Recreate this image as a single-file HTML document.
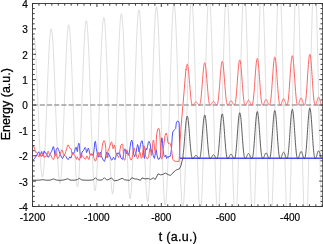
<!DOCTYPE html>
<html><head><meta charset="utf-8"><style>
html,body{margin:0;padding:0;background:#fff;width:323px;height:244px;overflow:hidden}
svg{display:block;font-family:"Liberation Sans",sans-serif;will-change:transform}
</style></head><body>
<svg width="323" height="244" viewBox="0 0 323 244">
<defs><clipPath id="c"><rect x="32.50" y="3.50" width="290.20" height="203.00"/></clipPath></defs>
<path d="M32.50 41.97L32.60 41.04L32.70 40.18L32.80 39.41L32.90 38.72L33.00 38.12L33.10 37.60L33.20 37.17L33.30 36.82L33.40 36.56L33.50 36.39L33.60 36.30L33.70 36.30L33.80 36.39L33.90 36.57L34.00 36.84L34.10 37.19L34.20 37.63L34.30 38.16L34.40 38.77L34.50 39.47L34.60 40.26L34.70 41.13L34.80 42.08L34.90 43.11L35.00 44.23L35.10 45.42L35.20 46.69L35.30 48.03L35.40 49.46L35.50 50.95L35.60 52.51L35.70 54.15L35.80 55.85L35.90 57.61L36.00 59.44L36.10 61.33L36.20 63.28L36.30 65.28L36.40 67.33L36.50 69.44L36.60 71.59L36.70 73.79L36.80 76.04L36.90 78.32L37.00 80.63L37.10 82.99L37.20 85.37L37.30 87.78L37.40 90.21L37.50 92.67L37.60 95.15L37.70 97.64L37.80 100.14L37.90 102.65L38.00 105.17L38.10 107.69L38.20 110.21L38.30 112.72L38.40 115.23L38.50 117.73L38.60 120.21L38.70 122.68L38.80 125.13L38.90 127.55L39.00 129.95L39.10 132.32L39.20 134.65L39.30 136.96L39.40 139.22L39.50 141.44L39.60 143.61L39.70 145.74L39.80 147.82L39.90 149.85L40.00 151.82L40.10 153.73L40.20 155.58L40.30 157.37L40.40 159.10L40.50 160.75L40.60 162.34L40.70 163.85L40.80 165.29L40.90 166.66L41.00 167.94L41.10 169.15L41.20 170.28L41.30 171.32L41.40 172.28L41.50 173.16L41.60 173.94L41.70 174.64L41.80 175.25L41.90 175.78L42.00 176.21L42.10 176.55L42.20 176.80L42.30 176.96L42.40 177.02L42.50 177.00L42.60 176.88L42.70 176.67L42.80 176.37L42.90 175.98L43.00 175.49L43.10 174.92L43.20 174.25L43.30 173.49L43.40 172.64L43.50 171.71L43.60 170.69L43.70 169.58L43.80 168.39L43.90 167.12L44.00 165.76L44.10 164.32L44.20 162.81L44.30 161.22L44.40 159.56L44.50 157.82L44.60 156.01L44.70 154.14L44.80 152.20L44.90 150.20L45.00 148.13L45.10 146.01L45.20 143.83L45.30 141.60L45.40 139.33L45.50 137.00L45.60 134.63L45.70 132.22L45.80 129.77L45.90 127.28L46.00 124.77L46.10 122.22L46.20 119.65L46.30 117.06L46.40 114.45L46.50 111.82L46.60 109.18L46.70 106.54L46.80 103.88L46.90 101.23L47.00 98.58L47.10 95.93L47.20 93.29L47.30 90.66L47.40 88.05L47.50 85.45L47.60 82.88L47.70 80.33L47.80 77.81L47.90 75.33L48.00 72.87L48.10 70.46L48.20 68.09L48.30 65.76L48.40 63.48L48.50 61.25L48.60 59.07L48.70 56.95L48.80 54.88L48.90 52.88L49.00 50.95L49.10 49.08L49.20 47.28L49.30 45.55L49.40 43.89L49.50 42.32L49.60 40.82L49.70 39.40L49.80 38.06L49.90 36.81L50.00 35.64L50.10 34.56L50.20 33.57L50.30 32.67L50.40 31.86L50.50 31.15L50.60 30.53L50.70 30.00L50.80 29.57L50.90 29.23L51.00 28.99L51.10 28.85L51.20 28.80L51.30 28.86L51.40 29.03L51.50 29.29L51.60 29.66L51.70 30.12L51.80 30.67L51.90 31.32L52.00 32.07L52.10 32.91L52.20 33.84L52.30 34.87L52.40 35.98L52.50 37.19L52.60 38.48L52.70 39.86L52.80 41.32L52.90 42.86L53.00 44.49L53.10 46.19L53.20 47.97L53.30 49.83L53.40 51.76L53.50 53.75L53.60 55.81L53.70 57.94L53.80 60.13L53.90 62.38L54.00 64.68L54.10 67.04L54.20 69.45L54.30 71.90L54.40 74.40L54.50 76.94L54.60 79.52L54.70 82.13L54.80 84.77L54.90 87.44L55.00 90.13L55.10 92.85L55.20 95.58L55.30 98.32L55.40 101.08L55.50 103.84L55.60 106.61L55.70 109.37L55.80 112.14L55.90 114.89L56.00 117.63L56.10 120.36L56.20 123.07L56.30 125.76L56.40 128.43L56.50 131.06L56.60 133.67L56.70 136.24L56.80 138.77L56.90 141.26L57.00 143.70L57.10 146.10L57.20 148.44L57.30 150.73L57.40 152.96L57.50 155.14L57.60 157.25L57.70 159.29L57.80 161.27L57.90 163.17L58.00 165.00L58.10 166.76L58.20 168.44L58.30 170.03L58.40 171.55L58.50 172.98L58.60 174.32L58.70 175.58L58.80 176.74L58.90 177.82L59.00 178.80L59.10 179.69L59.20 180.48L59.30 181.17L59.40 181.77L59.50 182.27L59.60 182.67L59.70 182.98L59.80 183.18L59.90 183.28L60.00 183.27L60.10 183.16L60.20 182.95L60.30 182.64L60.40 182.23L60.50 181.73L60.60 181.12L60.70 180.41L60.80 179.61L60.90 178.71L61.00 177.72L61.10 176.63L61.20 175.45L61.30 174.18L61.40 172.82L61.50 171.37L61.60 169.84L61.70 168.22L61.80 166.52L61.90 164.74L62.00 162.88L62.10 160.95L62.20 158.94L62.30 156.87L62.40 154.73L62.50 152.52L62.60 150.25L62.70 147.92L62.80 145.53L62.90 143.09L63.00 140.60L63.10 138.07L63.20 135.49L63.30 132.87L63.40 130.21L63.50 127.52L63.60 124.80L63.70 122.05L63.80 119.28L63.90 116.49L64.00 113.69L64.10 110.87L64.20 108.04L64.30 105.21L64.40 102.37L64.50 99.54L64.60 96.71L64.70 93.89L64.80 91.09L64.90 88.30L65.00 85.53L65.10 82.78L65.20 80.07L65.30 77.38L65.40 74.72L65.50 72.11L65.60 69.53L65.70 67.00L65.80 64.52L65.90 62.08L66.00 59.71L66.10 57.38L66.20 55.12L66.30 52.92L66.40 50.79L66.50 48.72L66.60 46.73L66.70 44.81L66.80 42.96L66.90 41.20L67.00 39.51L67.10 37.91L67.20 36.39L67.30 34.96L67.40 33.62L67.50 32.37L67.60 31.21L67.70 30.15L67.80 29.18L67.90 28.31L68.00 27.53L68.10 26.86L68.20 26.28L68.30 25.81L68.40 25.43L68.50 25.16L68.60 24.99L68.70 24.92L68.80 24.95L68.90 25.09L69.00 25.32L69.10 25.66L69.20 26.10L69.30 26.65L69.40 27.29L69.50 28.03L69.60 28.87L69.70 29.81L69.80 30.85L69.90 31.98L70.00 33.20L70.10 34.52L70.20 35.93L70.30 37.43L70.40 39.01L70.50 40.68L70.60 42.43L70.70 44.27L70.80 46.18L70.90 48.17L71.00 50.23L71.10 52.37L71.20 54.57L71.30 56.84L71.40 59.17L71.50 61.56L71.60 64.01L71.70 66.51L71.80 69.06L71.90 71.66L72.00 74.30L72.10 76.98L72.20 79.70L72.30 82.46L72.40 85.24L72.50 88.05L72.60 90.89L72.70 93.74L72.80 96.61L72.90 99.49L73.00 102.38L73.10 105.27L73.20 108.17L73.30 111.06L73.40 113.94L73.50 116.82L73.60 119.68L73.70 122.52L73.80 125.35L73.90 128.14L74.00 130.91L74.10 133.65L74.20 136.35L74.30 139.02L74.40 141.64L74.50 144.21L74.60 146.74L74.70 149.21L74.80 151.63L74.90 153.99L75.00 156.28L75.10 158.51L75.20 160.68L75.30 162.77L75.40 164.79L75.50 166.74L75.60 168.61L75.70 170.39L75.80 172.09L75.90 173.71L76.00 175.24L76.10 176.68L76.20 178.03L76.30 179.29L76.40 180.45L76.50 181.51L76.60 182.48L76.70 183.35L76.80 184.12L76.90 184.78L77.00 185.35L77.10 185.81L77.20 186.17L77.30 186.42L77.40 186.58L77.50 186.63L77.60 186.58L77.70 186.42L77.80 186.15L77.90 185.79L78.00 185.31L78.10 184.74L78.20 184.06L78.30 183.28L78.40 182.40L78.50 181.42L78.60 180.34L78.70 179.16L78.80 177.89L78.90 176.52L79.00 175.06L79.10 173.51L79.20 171.87L79.30 170.14L79.40 168.33L79.50 166.43L79.60 164.46L79.70 162.41L79.80 160.28L79.90 158.08L80.00 155.81L80.10 153.47L80.20 151.07L80.30 148.61L80.40 146.09L80.50 143.52L80.60 140.89L80.70 138.22L80.80 135.50L80.90 132.75L81.00 129.95L81.10 127.12L81.20 124.26L81.30 121.38L81.40 118.47L81.50 115.54L81.60 112.60L81.70 109.64L81.80 106.68L81.90 103.71L82.00 100.74L82.10 97.77L82.20 94.82L82.30 91.87L82.40 88.94L82.50 86.03L82.60 83.13L82.70 80.27L82.80 77.43L82.90 74.63L83.00 71.87L83.10 69.14L83.20 66.46L83.30 63.83L83.40 61.25L83.50 58.72L83.60 56.25L83.70 53.84L83.80 51.50L83.90 49.22L84.00 47.01L84.10 44.88L84.20 42.82L84.30 40.84L84.40 38.94L84.50 37.12L84.60 35.39L84.70 33.75L84.80 32.19L84.90 30.73L85.00 29.36L85.10 28.09L85.20 26.92L85.30 25.85L85.40 24.87L85.50 24.00L85.60 23.23L85.70 22.57L85.80 22.01L85.90 21.56L86.00 21.21L86.10 20.98L86.20 20.86L86.30 20.84L86.40 20.93L86.50 21.13L86.60 21.43L86.70 21.85L86.80 22.37L86.90 22.99L87.00 23.72L87.10 24.56L87.20 25.50L87.30 26.54L87.40 27.68L87.50 28.92L87.60 30.26L87.70 31.69L87.80 33.22L87.90 34.85L88.00 36.56L88.10 38.36L88.20 40.25L88.30 42.22L88.40 44.27L88.50 46.40L88.60 48.61L88.70 50.89L88.80 53.24L88.90 55.66L89.00 58.14L89.10 60.68L89.20 63.28L89.30 65.94L89.40 68.64L89.50 71.40L89.60 74.20L89.70 77.04L89.80 79.91L89.90 82.82L90.00 85.76L90.10 88.72L90.20 91.71L90.30 94.72L90.40 97.74L90.50 100.77L90.60 103.80L90.70 106.84L90.80 109.88L90.90 112.91L91.00 115.94L91.10 118.95L91.20 121.94L91.30 124.92L91.40 127.87L91.50 130.79L91.60 133.68L91.70 136.53L91.80 139.35L91.90 142.12L92.00 144.84L92.10 147.52L92.20 150.14L92.30 152.71L92.40 155.21L92.50 157.65L92.60 160.03L92.70 162.33L92.80 164.57L92.90 166.72L93.00 168.80L93.10 170.80L93.20 172.71L93.30 174.54L93.40 176.28L93.50 177.93L93.60 179.49L93.70 180.95L93.80 182.31L93.90 183.58L94.00 184.74L94.10 185.80L94.20 186.76L94.30 187.62L94.40 188.37L94.50 189.01L94.60 189.55L94.70 189.97L94.80 190.29L94.90 190.50L95.00 190.60L95.10 190.59L95.20 190.47L95.30 190.24L95.40 189.89L95.50 189.44L95.60 188.88L95.70 188.22L95.80 187.44L95.90 186.56L96.00 185.57L96.10 184.48L96.20 183.29L96.30 182.00L96.40 180.61L96.50 179.12L96.60 177.53L96.70 175.85L96.80 174.08L96.90 172.22L97.00 170.27L97.10 168.24L97.20 166.12L97.30 163.93L97.40 161.66L97.50 159.31L97.60 156.90L97.70 154.41L97.80 151.86L97.90 149.26L98.00 146.59L98.10 143.87L98.20 141.09L98.30 138.27L98.40 135.41L98.50 132.51L98.60 129.56L98.70 126.59L98.80 123.59L98.90 120.56L99.00 117.51L99.10 114.44L99.20 111.36L99.30 108.27L99.40 105.18L99.50 102.08L99.60 98.98L99.70 95.89L99.80 92.81L99.90 89.75L100.00 86.70L100.10 83.68L100.20 80.68L100.30 77.71L100.40 74.78L100.50 71.88L100.60 69.02L100.70 66.21L100.80 63.45L100.90 60.74L101.00 58.08L101.10 55.49L101.20 52.95L101.30 50.48L101.40 48.08L101.50 45.75L101.60 43.50L101.70 41.32L101.80 39.23L101.90 37.22L102.00 35.29L102.10 33.45L102.20 31.71L102.30 30.05L102.40 28.49L102.50 27.03L102.60 25.67L102.70 24.41L102.80 23.25L102.90 22.20L103.00 21.25L103.10 20.41L103.20 19.67L103.30 19.05L103.40 18.53L103.50 18.13L103.60 17.84L103.70 17.65L103.80 17.58L103.90 17.62L104.00 17.78L104.10 18.04L104.20 18.42L104.30 18.91L104.40 19.50L104.50 20.21L104.60 21.03L104.70 21.95L104.80 22.98L104.90 24.12L105.00 25.36L105.10 26.70L105.20 28.15L105.30 29.69L105.40 31.33L105.50 33.06L105.60 34.89L105.70 36.81L105.80 38.81L105.90 40.91L106.00 43.08L106.10 45.33L106.20 47.67L106.30 50.07L106.40 52.55L106.50 55.09L106.60 57.70L106.70 60.38L106.80 63.11L106.90 65.89L107.00 68.72L107.10 71.61L107.20 74.53L107.30 77.50L107.40 80.51L107.50 83.54L107.60 86.61L107.70 89.69L107.80 92.80L107.90 95.93L108.00 99.07L108.10 102.22L108.20 105.37L108.30 108.52L108.40 111.67L108.50 114.82L108.60 117.95L108.70 121.06L108.80 124.16L108.90 127.23L109.00 130.28L109.10 133.29L109.20 136.27L109.30 139.21L109.40 142.10L109.50 144.95L109.60 147.75L109.70 150.50L109.80 153.19L109.90 155.82L110.00 158.38L110.10 160.88L110.20 163.30L110.30 165.65L110.40 167.93L110.50 170.12L110.60 172.23L110.70 174.26L110.80 176.20L110.90 178.04L111.00 179.80L111.10 181.46L111.20 183.02L111.30 184.48L111.40 185.84L111.50 187.10L111.60 188.25L111.70 189.29L111.80 190.23L111.90 191.06L112.00 191.78L112.10 192.39L112.20 192.88L112.30 193.27L112.40 193.54L112.50 193.71L112.60 193.75L112.70 193.69L112.80 193.51L112.90 193.22L113.00 192.81L113.10 192.29L113.20 191.66L113.30 190.92L113.40 190.06L113.50 189.10L113.60 188.03L113.70 186.85L113.80 185.56L113.90 184.17L114.00 182.68L114.10 181.09L114.20 179.40L114.30 177.61L114.40 175.73L114.50 173.75L114.60 171.69L114.70 169.54L114.80 167.31L114.90 164.99L115.00 162.60L115.10 160.13L115.20 157.59L115.30 154.98L115.40 152.30L115.50 149.57L115.60 146.77L115.70 143.92L115.80 141.01L115.90 138.06L116.00 135.07L116.10 132.03L116.20 128.96L116.30 125.85L116.40 122.72L116.50 119.56L116.60 116.38L116.70 113.19L116.80 109.98L116.90 106.76L117.00 103.54L117.10 100.32L117.20 97.11L117.30 93.90L117.40 90.71L117.50 87.53L117.60 84.37L117.70 81.23L117.80 78.13L117.90 75.06L118.00 72.02L118.10 69.03L118.20 66.07L118.30 63.17L118.40 60.32L118.50 57.52L118.60 54.79L118.70 52.11L118.80 49.51L118.90 46.97L119.00 44.50L119.10 42.12L119.20 39.81L119.30 37.58L119.40 35.44L119.50 33.38L119.60 31.42L119.70 29.55L119.80 27.77L119.90 26.10L120.00 24.52L120.10 23.04L120.20 21.67L120.30 20.41L120.40 19.25L120.50 18.20L120.60 17.26L120.70 16.44L120.80 15.73L120.90 15.13L121.00 14.64L121.10 14.28L121.20 14.02L121.30 13.89L121.40 13.87L121.50 13.96L121.60 14.18L121.70 14.51L121.80 14.95L121.90 15.50L122.00 16.17L122.10 16.96L122.20 17.86L122.30 18.87L122.40 19.99L122.50 21.22L122.60 22.56L122.70 24.00L122.80 25.55L122.90 27.21L123.00 28.96L123.10 30.81L123.20 32.76L123.30 34.80L123.40 36.93L123.50 39.16L123.60 41.46L123.70 43.85L123.80 46.32L123.90 48.87L124.00 51.49L124.10 54.18L124.20 56.94L124.30 59.76L124.40 62.64L124.50 65.58L124.60 68.57L124.70 71.60L124.80 74.69L124.90 77.81L125.00 80.97L125.10 84.16L125.20 87.38L125.30 90.63L125.40 93.90L125.50 97.18L125.60 100.47L125.70 103.77L125.80 107.08L125.90 110.39L126.00 113.69L126.10 116.98L126.20 120.25L126.30 123.51L126.40 126.75L126.50 129.97L126.60 133.15L126.70 136.30L126.80 139.41L126.90 142.48L127.00 145.50L127.10 148.47L127.20 151.39L127.30 154.25L127.40 157.05L127.50 159.78L127.60 162.44L127.70 165.04L127.80 167.55L127.90 169.99L128.00 172.35L128.10 174.62L128.20 176.80L128.30 178.90L128.40 180.90L128.50 182.80L128.60 184.61L128.70 186.31L128.80 187.91L128.90 189.40L129.00 190.79L129.10 192.07L129.20 193.24L129.30 194.29L129.40 195.23L129.50 196.06L129.60 196.77L129.70 197.36L129.80 197.83L129.90 198.18L130.00 198.42L130.10 198.52L130.20 198.50L130.30 198.36L130.40 198.10L130.50 197.72L130.60 197.22L130.70 196.60L130.80 195.86L130.90 195.01L131.00 194.04L131.10 192.96L131.20 191.76L131.30 190.46L131.40 189.04L131.50 187.51L131.60 185.88L131.70 184.14L131.80 182.30L131.90 180.36L132.00 178.33L132.10 176.19L132.20 173.97L132.30 171.66L132.40 169.26L132.50 166.78L132.60 164.21L132.70 161.57L132.80 158.86L132.90 156.08L133.00 153.23L133.10 150.31L133.20 147.34L133.30 144.32L133.40 141.24L133.50 138.11L133.60 134.94L133.70 131.73L133.80 128.49L133.90 125.21L134.00 121.91L134.10 118.58L134.20 115.24L134.30 111.88L134.40 108.51L134.50 105.13L134.60 101.76L134.70 98.39L134.80 95.02L134.90 91.67L135.00 88.33L135.10 85.01L135.20 81.71L135.30 78.45L135.40 75.22L135.50 72.02L135.60 68.87L135.70 65.76L135.80 62.70L135.90 59.69L136.00 56.74L136.10 53.85L136.20 51.03L136.30 48.27L136.40 45.59L136.50 42.98L136.60 40.45L136.70 38.00L136.80 35.63L136.90 33.36L137.00 31.17L137.10 29.08L137.20 27.09L137.30 25.19L137.40 23.40L137.50 21.71L137.60 20.12L137.70 18.65L137.80 17.28L137.90 16.03L138.00 14.89L138.10 13.86L138.20 12.95L138.30 12.16L138.40 11.49L138.50 10.93L138.60 10.50L138.70 10.18L138.80 9.98L138.90 9.90L139.00 9.95L139.10 10.11L139.20 10.40L139.30 10.81L139.40 11.34L139.50 11.99L139.60 12.76L139.70 13.65L139.80 14.65L139.90 15.77L140.00 17.01L140.10 18.36L140.20 19.82L140.30 21.39L140.40 23.07L140.50 24.85L140.60 26.74L140.70 28.73L140.80 30.82L140.90 33.00L141.00 35.28L141.10 37.64L141.20 40.10L141.30 42.64L141.40 45.26L141.50 47.95L141.60 50.72L141.70 53.57L141.80 56.47L141.90 59.45L142.00 62.48L142.10 65.57L142.20 68.71L142.30 71.89L142.40 75.13L142.50 78.40L142.60 81.70L142.70 85.04L142.80 88.41L142.90 91.79L143.00 95.20L143.10 98.62L143.20 102.05L143.30 105.48L143.40 108.92L143.50 112.35L143.60 115.77L143.70 119.19L143.80 122.58L143.90 125.95L144.00 129.30L144.10 132.62L144.20 135.91L144.30 139.15L144.40 142.36L144.50 145.51L144.60 148.62L144.70 151.67L144.80 154.67L144.90 157.60L145.00 160.46L145.10 163.26L145.20 165.98L145.30 168.62L145.40 171.19L145.50 173.67L145.60 176.06L145.70 178.36L145.80 180.57L145.90 182.69L146.00 184.70L146.10 186.61L146.20 188.42L146.30 190.13L146.40 191.72L146.50 193.20L146.60 194.58L146.70 195.83L146.80 196.97L146.90 198.00L147.00 198.90L147.10 199.69L147.20 200.35L147.30 200.89L147.40 201.31L147.50 201.60L147.60 201.78L147.70 201.81L147.80 201.72L147.90 201.51L148.00 201.17L148.10 200.71L148.20 200.13L148.30 199.43L148.40 198.60L148.50 197.65L148.60 196.59L148.70 195.40L148.80 194.10L148.90 192.69L149.00 191.16L149.10 189.52L149.20 187.77L149.30 185.92L149.40 183.96L149.50 181.90L149.60 179.74L149.70 177.48L149.80 175.13L149.90 172.69L150.00 170.16L150.10 167.55L150.20 164.86L150.30 162.09L150.40 159.24L150.50 156.33L150.60 153.34L150.70 150.30L150.80 147.19L150.90 144.04L151.00 140.83L151.10 137.57L151.20 134.27L151.30 130.93L151.40 127.56L151.50 124.16L151.60 120.73L151.70 117.28L151.80 113.82L151.90 110.34L152.00 106.85L152.10 103.36L152.20 99.88L152.30 96.39L152.40 92.92L152.50 89.46L152.60 86.03L152.70 82.61L152.80 79.22L152.90 75.87L153.00 72.55L153.10 69.27L153.20 66.03L153.30 62.85L153.40 59.72L153.50 56.64L153.60 53.63L153.70 50.68L153.80 47.80L153.90 45.00L154.00 42.26L154.10 39.61L154.20 37.04L154.30 34.56L154.40 32.17L154.50 29.87L154.60 27.67L154.70 25.56L154.80 23.55L154.90 21.65L155.00 19.86L155.10 18.17L155.20 16.60L155.30 15.13L155.40 13.79L155.50 12.56L155.60 11.44L155.70 10.45L155.80 9.57L155.90 8.82L156.00 8.20L156.10 7.69L156.20 7.31L156.30 7.06L156.40 6.91L156.50 6.89L156.60 7.00L156.70 7.23L156.80 7.59L156.90 8.07L157.00 8.68L157.10 9.41L157.20 10.26L157.30 11.24L157.40 12.34L157.50 13.55L157.60 14.88L157.70 16.33L157.80 17.90L157.90 19.57L158.00 21.36L158.10 23.25L158.20 25.25L158.30 27.35L158.40 29.56L158.50 31.86L158.60 34.25L158.70 36.74L158.80 39.32L158.90 41.98L159.00 44.72L159.10 47.55L159.20 50.44L159.30 53.41L159.40 56.45L159.50 59.55L159.60 62.71L159.70 65.93L159.80 69.19L159.90 72.51L160.00 75.87L160.10 79.26L160.20 82.69L160.30 86.16L160.40 89.64L160.50 93.15L160.60 96.68L160.70 100.22L160.80 103.76L160.90 107.31L161.00 110.86L161.10 114.40L161.20 117.94L161.30 121.45L161.40 124.95L161.50 128.43L161.60 131.87L161.70 135.28L161.80 138.66L161.90 141.99L162.00 145.28L162.10 148.52L162.20 151.70L162.30 154.83L162.40 157.89L162.50 160.89L162.60 163.82L162.70 166.67L162.80 169.44L162.90 172.14L163.00 174.75L163.10 177.27L163.20 179.69L163.30 182.03L163.40 184.27L163.50 186.40L163.60 188.43L163.70 190.36L163.80 192.18L163.90 193.88L164.00 195.48L164.10 196.96L164.20 198.32L164.30 199.56L164.40 200.68L164.50 201.68L164.60 202.55L164.70 203.30L164.80 203.93L164.90 204.43L165.00 204.80L165.10 205.03L165.20 205.12L165.30 205.10L165.40 204.94L165.50 204.65L165.60 204.24L165.70 203.70L165.80 203.03L165.90 202.23L166.00 201.31L166.10 200.27L166.20 199.11L166.30 197.82L166.40 196.41L166.50 194.89L166.60 193.25L166.70 191.50L166.80 189.63L166.90 187.66L167.00 185.58L167.10 183.39L167.20 181.11L167.30 178.73L167.40 176.25L167.50 173.68L167.60 171.02L167.70 168.27L167.80 165.44L167.90 162.54L168.00 159.56L168.10 156.51L168.20 153.39L168.30 150.21L168.40 146.97L168.50 143.68L168.60 140.33L168.70 136.94L168.80 133.51L168.90 130.04L169.00 126.54L169.10 123.01L169.20 119.45L169.30 115.88L169.40 112.29L169.50 108.69L169.60 105.08L169.70 101.47L169.80 97.87L169.90 94.27L170.00 90.69L170.10 87.13L170.20 83.58L170.30 80.07L170.40 76.58L170.50 73.13L170.60 69.72L170.70 66.36L170.80 63.04L170.90 59.77L171.00 56.57L171.10 53.42L171.20 50.34L171.30 47.33L171.40 44.39L171.50 41.53L171.60 38.75L171.70 36.05L171.80 33.44L171.90 30.92L172.00 28.50L172.10 26.17L172.20 23.95L172.30 21.82L172.40 19.80L172.50 17.90L172.60 16.10L172.70 14.41L172.80 12.85L172.90 11.40L173.00 10.06L173.10 8.85L173.20 7.77L173.30 6.80L173.40 5.97L173.50 5.26L173.60 4.67L173.70 4.22L173.80 3.89L173.90 3.69L174.00 3.63L174.10 3.68L174.20 3.86L174.30 4.18L174.40 4.62L174.50 5.19L174.60 5.89L174.70 6.72L174.80 7.67L174.90 8.75L175.00 9.95L175.10 11.27L175.20 12.71L175.30 14.28L175.40 15.96L175.50 17.75L175.60 19.66L175.70 21.67L175.80 23.80L175.90 26.02L176.00 28.36L176.10 30.78L176.20 33.31L176.30 35.93L176.40 38.64L176.50 41.43L176.60 44.31L176.70 47.26L176.80 50.29L176.90 53.39L177.00 56.56L177.10 59.79L177.20 63.08L177.30 66.43L177.40 69.83L177.50 73.27L177.60 76.75L177.70 80.28L177.80 83.83L177.90 87.41L178.00 91.02L178.10 94.65L178.20 98.29L178.30 101.94L178.40 105.60L178.50 109.25L178.60 112.90L178.70 116.55L178.80 120.18L178.90 123.79L179.00 127.38L179.10 130.94L179.20 134.47L179.30 137.96L179.40 141.41L179.50 144.82L179.60 148.18L179.70 151.48L179.80 154.72L179.90 157.91L180.00 161.02L180.10 164.06L180.20 167.03L180.30 169.92L180.40 172.73L180.50 175.45L180.60 178.09L180.70 180.63L180.80 183.07L180.90 185.42L181.00 187.66L181.10 189.80L181.20 191.83L181.30 193.74L181.40 195.55L181.50 197.24L181.60 198.81L181.70 200.26L181.80 201.59L181.90 202.80L182.00 203.88L182.10 204.84L182.20 205.67L182.30 206.37L182.40 206.93L182.50 207.37L182.60 207.68L182.70 207.86L182.80 207.90L182.90 207.81L183.00 207.59L183.10 207.24L183.20 206.75L183.30 206.14L183.40 205.39L183.50 204.52L183.60 203.52L183.70 202.39L183.80 201.13L183.90 199.76L184.00 198.26L184.10 196.64L184.20 194.90L184.30 193.04L184.40 191.07L184.50 188.99L184.60 186.80L184.70 184.51L184.80 182.11L184.90 179.61L185.00 177.02L185.10 174.33L185.20 171.55L185.30 168.69L185.40 165.74L185.50 162.71L185.60 159.61L185.70 156.44L185.80 153.20L185.90 149.89L186.00 146.53L186.10 143.11L186.20 139.64L186.30 136.13L186.40 132.57L186.50 128.98L186.60 125.36L186.70 121.70L186.80 118.03L186.90 114.33L187.00 110.63L187.10 106.91L187.20 103.19L187.30 99.47L187.40 95.76L187.50 92.05L187.60 88.36L187.70 84.69L187.80 81.05L187.90 77.43L188.00 73.85L188.10 70.31L188.20 66.81L188.30 63.35L188.40 59.95L188.50 56.61L188.60 53.32L188.70 50.10L188.80 46.95L188.90 43.88L189.00 40.88L189.10 37.96L189.20 35.12L189.30 32.37L189.40 29.72L189.50 27.16L189.60 24.70L189.70 22.34L189.80 20.09L189.90 17.94L190.00 15.90L190.10 13.98L190.20 12.17L190.30 10.49L190.40 8.92L190.50 7.47L190.60 6.15L190.70 4.96L190.80 3.89L190.90 2.95L191.00 2.14L191.10 1.46L191.20 0.92L191.30 0.51L191.40 0.23L191.50 0.09L191.60 0.08L191.70 0.20L191.80 0.46L191.90 0.85L192.00 1.38L192.10 2.04L192.20 2.83L192.30 3.75L192.40 4.81L192.50 5.99L192.60 7.30L192.70 8.73L192.80 10.29L192.90 11.97L193.00 13.77L193.10 15.69L193.20 17.72L193.30 19.86L193.40 22.12L193.50 24.48L193.60 26.94L193.70 29.51L193.80 32.17L193.90 34.93L194.00 37.78L194.10 40.72L194.20 43.74L194.30 46.84L194.40 50.01L194.50 53.26L194.60 56.57L194.70 59.95L194.80 63.38L194.90 66.87L195.00 70.41L195.10 74.00L195.20 77.63L195.30 81.29L195.40 84.98L195.50 88.71L195.60 92.45L195.70 96.21L195.80 99.98L195.90 103.77L196.00 107.55L196.10 111.33L196.20 115.11L196.30 118.87L196.40 122.62L196.50 126.35L196.60 130.05L196.70 133.72L196.80 137.35L196.90 140.94L197.00 144.49L197.10 147.99L197.20 151.43L197.30 154.82L197.40 158.14L197.50 161.40L197.60 164.59L197.70 167.70L197.80 170.73L197.90 173.68L198.00 176.54L198.10 179.31L198.20 181.98L198.30 184.56L198.40 187.04L198.50 189.41L198.60 191.67L198.70 193.83L198.80 195.87L198.90 197.79L199.00 199.60L199.10 201.29L199.20 202.85L199.30 204.29L199.40 205.60L199.50 206.78L199.60 207.83L199.70 208.75L199.80 209.54L199.90 210.20L200.00 210.71L200.10 211.10L200.20 211.35L200.30 211.46L200.40 211.43L200.50 211.27L200.60 210.97L200.70 210.54L200.80 209.97L200.90 209.26L201.00 208.42L201.10 207.45L201.20 206.34L201.30 205.11L201.40 203.74L201.50 202.25L201.60 200.64L201.70 198.90L201.80 197.04L201.90 195.06L202.00 192.96L202.10 190.75L202.20 188.43L202.30 186.00L202.40 183.47L202.50 180.83L202.60 178.10L202.70 175.27L202.80 172.35L202.90 169.34L203.00 166.25L203.10 163.08L203.20 159.83L203.30 156.51L203.40 153.12L203.50 149.67L203.60 146.16L203.70 142.60L203.80 138.99L203.90 135.33L204.00 131.63L204.10 127.90L204.20 124.13L204.30 120.34L204.40 116.53L204.50 112.70L204.60 108.86L204.70 105.02L204.80 101.17L204.90 97.32L205.00 93.49L205.10 89.66L205.20 85.86L205.30 82.08L205.40 78.32L205.50 74.60L205.60 70.92L205.70 67.27L205.80 63.68L205.90 60.13L206.00 56.65L206.10 53.22L206.20 49.85L206.30 46.56L206.40 43.34L206.50 40.20L206.60 37.14L206.70 34.16L206.80 31.28L206.90 28.49L207.00 25.79L207.10 23.20L207.20 20.71L207.30 18.32L207.40 16.05L207.50 13.89L207.60 11.84L207.70 9.92L207.80 8.11L207.90 6.43L208.00 4.87L208.10 3.44L208.20 2.14L208.30 0.97L208.40 -0.06L208.50 -0.96L208.60 -1.73L208.70 -2.36L208.80 -2.85L208.90 -3.20L209.00 -3.42L209.10 -3.50L209.20 -3.44L209.30 -3.24L209.40 -2.90L209.50 -2.42L209.60 -1.80L209.70 -1.05L209.80 -0.16L209.90 0.86L210.00 2.02L210.10 3.31L210.20 4.73L210.30 6.28L210.40 7.95L210.50 9.75L210.60 11.68L210.70 13.72L210.80 15.88L210.90 18.16L211.00 20.55L211.10 23.04L211.20 25.65L211.30 28.35L211.40 31.16L211.50 34.06L211.60 37.05L211.70 40.13L211.80 43.29L211.90 46.54L212.00 49.86L212.10 53.25L212.20 56.71L212.30 60.23L212.40 63.82L212.50 67.45L212.60 71.14L212.70 74.86L212.80 78.63L212.90 82.44L213.00 86.27L213.10 90.13L213.20 94.01L213.30 97.91L213.40 101.81L213.50 105.72L213.60 109.64L213.70 113.54L213.80 117.44L213.90 121.32L214.00 125.18L214.10 129.02L214.20 132.83L214.30 136.61L214.40 140.34L214.50 144.03L214.60 147.67L214.70 151.26L214.80 154.79L214.90 158.26L215.00 161.66L215.10 164.99L215.20 168.24L215.30 171.42L215.40 174.51L215.50 177.51L215.60 180.41L215.70 183.23L215.80 185.94L215.90 188.55L216.00 191.06L216.10 193.45L216.20 195.73L216.30 197.90L216.40 199.95L216.50 201.88L216.60 203.68L216.70 205.36L216.80 206.90L216.90 208.32L217.00 209.61L217.10 210.76L217.20 211.78L217.30 212.66L217.40 213.40L217.50 214.01L217.60 214.47L217.70 214.80L217.80 214.98L217.90 215.02L218.00 214.92L218.10 214.68L218.20 214.30L218.30 213.78L218.40 213.12L218.50 212.32L218.60 211.38L218.70 210.31L218.80 209.10L218.90 207.75L219.00 206.27L219.10 204.67L219.20 202.93L219.30 201.07L219.40 199.08L219.50 196.97L219.60 194.74L219.70 192.40L219.80 189.94L219.90 187.38L220.00 184.71L220.10 181.93L220.20 179.05L220.30 176.08L220.40 173.02L220.50 169.86L220.60 166.63L220.70 163.31L220.80 159.91L220.90 156.45L221.00 152.92L221.10 149.32L221.20 145.66L221.30 141.96L221.40 138.20L221.50 134.40L221.60 130.56L221.70 126.68L221.80 122.78L221.90 118.85L222.00 114.90L222.10 110.94L222.20 106.97L222.30 102.99L222.40 99.02L222.50 95.05L222.60 91.09L222.70 87.15L222.80 83.23L222.90 79.34L223.00 75.48L223.10 71.65L223.20 67.87L223.30 64.13L223.40 60.44L223.50 56.81L223.60 53.24L223.70 49.73L223.80 46.29L223.90 42.93L224.00 39.64L224.10 36.44L224.20 33.32L224.30 30.30L224.40 27.37L224.50 24.53L224.60 21.80L224.70 19.18L224.80 16.66L224.90 14.26L225.00 11.97L225.10 9.80L225.20 7.75L225.30 5.82L225.40 4.02L225.50 2.35L225.60 0.81L225.70 -0.60L225.80 -1.87L225.90 -3.01L226.00 -4.01L226.10 -4.87L226.20 -5.58L226.30 -6.16L226.40 -6.60L226.50 -6.89L226.60 -7.04L226.70 -7.05L226.80 -6.91L226.90 -6.63L227.00 -6.20L227.10 -5.64L227.20 -4.93L227.30 -4.08L227.40 -3.09L227.50 -1.96L227.60 -0.70L227.70 0.71L227.80 2.24L227.90 3.91L228.00 5.71L228.10 7.63L228.20 9.68L228.30 11.86L228.40 14.15L228.50 16.56L228.60 19.09L228.70 21.72L228.80 24.46L228.90 27.31L229.00 30.26L229.10 33.30L229.20 36.44L229.30 39.67L229.40 42.98L229.50 46.37L229.60 49.84L229.70 53.38L229.80 56.98L229.90 60.65L230.00 64.38L230.10 68.16L230.20 71.99L230.30 75.86L230.40 79.78L230.50 83.72L230.60 87.69L230.70 91.69L230.80 95.71L230.90 99.74L231.00 103.77L231.10 107.81L231.20 111.85L231.30 115.88L231.40 119.90L231.50 123.89L231.60 127.87L231.70 131.82L231.80 135.73L231.90 139.61L232.00 143.44L232.10 147.23L232.20 150.96L232.30 154.64L232.40 158.25L232.50 161.80L232.60 165.27L232.70 168.67L232.80 171.98L232.90 175.22L233.00 178.36L233.10 181.41L233.20 184.36L233.30 187.21L233.40 189.96L233.50 192.60L233.60 195.13L233.70 197.54L233.80 199.84L233.90 202.01L234.00 204.06L234.10 205.99L234.20 207.78L234.30 209.44L234.40 210.97L234.50 212.37L234.60 213.63L234.70 214.75L234.80 215.72L234.90 216.56L235.00 217.25L235.10 217.80L235.20 218.21L235.30 218.47L235.40 218.58L235.50 218.55L235.60 218.37L235.70 218.05L235.80 217.58L235.90 216.97L236.00 216.21L236.10 215.31L236.20 214.27L236.30 213.09L236.40 211.77L236.50 210.31L236.60 208.72L236.70 206.99L236.80 205.13L236.90 203.14L237.00 201.02L237.10 198.78L237.20 196.42L237.30 193.94L237.40 191.35L237.50 188.64L237.60 185.83L237.70 182.91L237.80 179.89L237.90 176.77L238.00 173.56L238.10 170.26L238.20 166.88L238.30 163.41L238.40 159.87L238.50 156.26L238.60 152.57L238.70 148.83L238.80 145.03L238.90 141.18L239.00 137.27L239.10 133.33L239.20 129.35L239.30 125.33L239.40 121.29L239.50 117.22L239.60 113.14L239.70 109.05L239.80 104.94L239.90 100.84L240.00 96.74L240.10 92.65L240.20 88.58L240.30 84.52L240.40 80.49L240.50 76.48L240.60 72.52L240.70 68.59L240.80 64.71L240.90 60.88L241.00 57.10L241.10 53.38L241.20 49.73L241.30 46.15L241.40 42.64L241.50 39.21L241.60 35.86L241.70 32.60L241.80 29.43L241.90 26.36L242.00 23.39L242.10 20.52L242.20 17.75L242.30 15.10L242.40 12.56L242.50 10.14L242.60 7.84L242.70 5.67L242.80 3.62L242.90 1.70L243.00 -0.09L243.10 -1.75L243.20 -3.27L243.30 -4.65L243.40 -5.89L243.50 -6.99L243.60 -7.95L243.70 -8.76L243.80 -9.42L243.90 -9.95L244.00 -10.32L244.10 -10.54L244.20 -10.62L244.30 -10.55L244.40 -10.33L244.50 -9.97L244.60 -9.46L244.70 -8.80L244.80 -7.99L244.90 -7.04L245.00 -5.94L245.10 -4.71L245.20 -3.33L245.30 -1.81L245.40 -0.16L245.50 1.63L245.60 3.56L245.70 5.61L245.80 7.79L245.90 10.10L246.00 12.53L246.10 15.07L246.20 17.74L246.30 20.51L246.40 23.40L246.50 26.39L246.60 29.48L246.70 32.68L246.80 35.96L246.90 39.33L247.00 42.79L247.10 46.33L247.20 49.95L247.30 53.64L247.40 57.39L247.50 61.21L247.60 65.08L247.70 69.01L247.80 72.98L247.90 77.00L248.00 81.05L248.10 85.14L248.20 89.25L248.30 93.39L248.40 97.54L248.50 101.70L248.60 105.86L248.70 110.03L248.80 114.19L248.90 118.34L249.00 122.48L249.10 126.59L249.20 130.68L249.30 134.73L249.40 138.75L249.50 142.73L249.60 146.66L249.70 150.54L249.80 154.36L249.90 158.11L250.00 161.81L250.10 165.43L250.20 168.97L250.30 172.43L250.40 175.81L250.50 179.09L250.60 182.29L250.70 185.38L250.80 188.38L250.90 191.26L251.00 194.04L251.10 196.70L251.20 199.25L251.30 201.68L251.40 203.98L251.50 206.16L251.60 208.21L251.70 210.12L251.80 211.90L251.90 213.55L252.00 215.06L252.10 216.42L252.20 217.65L252.30 218.72L252.40 219.66L252.50 220.45L252.60 221.08L252.70 221.57L252.80 221.91L252.90 222.11L253.00 222.15L253.10 222.04L253.20 221.78L253.30 221.37L253.40 220.81L253.50 220.10L253.60 219.24L253.70 218.24L253.80 217.09L253.90 215.80L254.00 214.36L254.10 212.79L254.20 211.07L254.30 209.22L254.40 207.23L254.50 205.11L254.60 202.86L254.70 200.49L254.80 197.99L254.90 195.37L255.00 192.64L255.10 189.79L255.20 186.83L255.30 183.77L255.40 180.60L255.50 177.34L255.60 173.98L255.70 170.53L255.80 167.00L255.90 163.38L256.00 159.69L256.10 155.93L256.20 152.10L256.30 148.21L256.40 144.26L256.50 140.26L256.60 136.21L256.70 132.13L256.80 128.00L256.90 123.85L257.00 119.66L257.10 115.46L257.20 111.25L257.30 107.02L257.40 102.79L257.50 98.56L257.60 94.34L257.70 90.13L257.80 85.93L257.90 81.76L258.00 77.62L258.10 73.51L258.20 69.44L258.30 65.42L258.40 61.44L258.50 57.52L258.60 53.66L258.70 49.86L258.80 46.13L258.90 42.47L259.00 38.90L259.10 35.40L259.20 32.00L259.30 28.68L259.40 25.47L259.50 22.35L259.60 19.34L259.70 16.44L259.80 13.65L259.90 10.97L260.00 8.42L260.10 5.99L260.20 3.68L260.30 1.50L260.40 -0.54L260.50 -2.45L260.60 -4.23L260.70 -5.86L260.80 -7.35L260.90 -8.70L261.00 -9.91L261.10 -10.97L261.20 -11.87L261.30 -12.64L261.40 -13.25L261.50 -13.70L261.60 -14.01L261.70 -14.17L261.80 -14.17L261.90 -14.02L262.00 -13.71L262.10 -13.26L262.20 -12.65L262.30 -11.89L262.40 -10.99L262.50 -9.93L262.60 -8.73L262.70 -7.38L262.80 -5.88L262.90 -4.24L263.00 -2.47L263.10 -0.55L263.20 1.50L263.30 3.69L263.40 6.00L263.50 8.44L263.60 11.01L263.70 13.70L263.80 16.51L263.90 19.43L264.00 22.46L264.10 25.59L264.20 28.83L264.30 32.17L264.40 35.61L264.50 39.13L264.60 42.74L264.70 46.43L264.80 50.19L264.90 54.03L265.00 57.93L265.10 61.90L265.20 65.92L265.30 69.99L265.40 74.11L265.50 78.27L265.60 82.47L265.70 86.69L265.80 90.94L265.90 95.21L266.00 99.50L266.10 103.79L266.20 108.08L266.30 112.38L266.40 116.66L266.50 120.93L266.60 125.18L266.70 129.41L266.80 133.60L266.90 137.76L267.00 141.88L267.10 145.96L267.20 149.98L267.30 153.95L267.40 157.85L267.50 161.69L267.60 165.46L267.70 169.15L267.80 172.76L267.90 176.28L268.00 179.71L268.10 183.05L268.20 186.29L268.30 189.42L268.40 192.45L268.50 195.37L268.60 198.17L268.70 200.85L268.80 203.42L268.90 205.85L269.00 208.16L269.10 210.33L269.20 212.38L269.30 214.28L269.40 216.04L269.50 217.67L269.60 219.14L269.70 220.48L269.80 221.66L269.90 222.70L270.00 223.58L270.10 224.31L270.20 224.89L270.30 225.32L270.40 225.59L270.50 225.71L270.60 225.67L270.70 225.48L270.80 225.13L270.90 224.63L271.00 223.97L271.10 223.16L271.20 222.20L271.30 221.09L271.40 219.83L271.50 218.43L271.60 216.87L271.70 215.17L271.80 213.33L271.90 211.35L272.00 209.24L272.10 206.98L272.20 204.60L272.30 202.09L272.40 199.45L272.50 196.69L272.60 193.81L272.70 190.82L272.80 187.72L272.90 184.50L273.00 181.19L273.10 177.78L273.20 174.27L273.30 170.67L273.40 166.99L273.50 163.22L273.60 159.38L273.70 155.47L273.80 151.49L273.90 147.45L274.00 143.35L274.10 139.21L274.20 135.02L274.30 130.79L274.40 126.52L274.50 122.22L274.60 117.91L274.70 113.57L274.80 109.22L274.90 104.86L275.00 100.50L275.10 96.15L275.20 91.81L275.30 87.48L275.40 83.17L275.50 78.89L275.60 74.64L275.70 70.42L275.80 66.26L275.90 62.13L276.00 58.07L276.10 54.06L276.20 50.11L276.30 46.23L276.40 42.43L276.50 38.71L276.60 35.07L276.70 31.51L276.80 28.05L276.90 24.69L277.00 21.43L277.10 18.28L277.20 15.23L277.30 12.30L277.40 9.49L277.50 6.80L277.60 4.23L277.70 1.79L277.80 -0.51L277.90 -2.69L278.00 -4.72L278.10 -6.62L278.20 -8.37L278.30 -9.98L278.40 -11.44L278.50 -12.76L278.60 -13.92L278.70 -14.93L278.80 -15.79L278.90 -16.49L279.00 -17.04L279.10 -17.43L279.20 -17.67L279.30 -17.75L279.40 -17.67L279.50 -17.43L279.60 -17.04L279.70 -16.49L279.80 -15.79L279.90 -14.93L280.00 -13.91L280.10 -12.75L280.20 -11.43L280.30 -9.96L280.40 -8.35L280.50 -6.59L280.60 -4.68L280.70 -2.64L280.80 -0.45L280.90 1.87L281.00 4.32L281.10 6.90L281.20 9.61L281.30 12.44L281.40 15.39L281.50 18.46L281.60 21.63L281.70 24.92L281.80 28.31L281.90 31.80L282.00 35.38L282.10 39.06L282.20 42.82L282.30 46.66L282.40 50.57L282.50 54.56L282.60 58.61L282.70 62.73L282.80 66.90L282.90 71.11L283.00 75.38L283.10 79.68L283.20 84.02L283.30 88.38L283.40 92.77L283.50 97.17L283.60 101.59L283.70 106.01L283.80 110.43L283.90 114.85L284.00 119.25L284.10 123.64L284.20 128.01L284.30 132.34L284.40 136.64L284.50 140.91L284.60 145.13L284.70 149.29L284.80 153.41L284.90 157.46L285.00 161.45L285.10 165.36L285.20 169.20L285.30 172.96L285.40 176.63L285.50 180.21L285.60 183.69L285.70 187.08L285.80 190.36L285.90 193.53L286.00 196.59L286.10 199.53L286.20 202.36L286.30 205.05L286.40 207.62L286.50 210.06L286.60 212.37L286.70 214.54L286.80 216.57L286.90 218.46L287.00 220.20L287.10 221.79L287.20 223.24L287.30 224.53L287.40 225.67L287.50 226.66L287.60 227.49L287.70 228.16L287.80 228.68L287.90 229.03L288.00 229.23L288.10 229.27L288.20 229.15L288.30 228.87L288.40 228.43L288.50 227.83L288.60 227.08L288.70 226.16L288.80 225.10L288.90 223.87L289.00 222.50L289.10 220.97L289.20 219.29L289.30 217.47L289.40 215.50L289.50 213.39L289.60 211.14L289.70 208.75L289.80 206.23L289.90 203.58L290.00 200.80L290.10 197.89L290.20 194.87L290.30 191.73L290.40 188.48L290.50 185.12L290.60 181.65L290.70 178.09L290.80 174.43L290.90 170.68L291.00 166.84L291.10 162.93L291.20 158.93L291.30 154.87L291.40 150.74L291.50 146.56L291.60 142.31L291.70 138.02L291.80 133.68L291.90 129.31L292.00 124.90L292.10 120.47L292.20 116.01L292.30 111.54L292.40 107.06L292.50 102.57L292.60 98.09L292.70 93.61L292.80 89.15L292.90 84.70L293.00 80.28L293.10 75.89L293.20 71.54L293.30 67.22L293.40 62.96L293.50 58.74L293.60 54.59L293.70 50.49L293.80 46.47L293.90 42.52L294.00 38.64L294.10 34.85L294.20 31.15L294.30 27.55L294.40 24.04L294.50 20.63L294.60 17.33L294.70 14.14L294.80 11.07L294.90 8.11L295.00 5.28L295.10 2.58L295.20 0.00L295.30 -2.44L295.40 -4.74L295.50 -6.91L295.60 -8.93L295.70 -10.80L295.80 -12.53L295.90 -14.11L296.00 -15.54L296.10 -16.81L296.20 -17.93L296.30 -18.89L296.40 -19.69L296.50 -20.33L296.60 -20.81L296.70 -21.13L296.80 -21.29L296.90 -21.29L297.00 -21.12L297.10 -20.80L297.20 -20.31L297.30 -19.66L297.40 -18.86L297.50 -17.89L297.60 -16.77L297.70 -15.49L297.80 -14.05L297.90 -12.46L298.00 -10.72L298.10 -8.84L298.20 -6.80L298.30 -4.63L298.40 -2.31L298.50 0.15L298.60 2.74L298.70 5.47L298.80 8.32L298.90 11.30L299.00 14.39L299.10 17.61L299.20 20.94L299.30 24.37L299.40 27.91L299.50 31.55L299.60 35.29L299.70 39.12L299.80 43.03L299.90 47.02L300.00 51.09L300.10 55.22L300.20 59.43L300.30 63.69L300.40 68.01L300.50 72.37L300.60 76.78L300.70 81.23L300.80 85.70L300.90 90.21L301.00 94.73L301.10 99.27L301.20 103.82L301.30 108.36L301.40 112.91L301.50 117.45L301.60 121.97L301.70 126.47L301.80 130.95L301.90 135.40L302.00 139.80L302.10 144.17L302.20 148.48L302.30 152.74L302.40 156.94L302.50 161.07L302.60 165.14L302.70 169.12L302.80 173.03L302.90 176.85L303.00 180.58L303.10 184.21L303.20 187.75L303.30 191.17L303.40 194.49L303.50 197.70L303.60 200.78L303.70 203.75L303.80 206.59L303.90 209.30L304.00 211.87L304.10 214.31L304.20 216.61L304.30 218.77L304.40 220.78L304.50 222.65L304.60 224.36L304.70 225.92L304.80 227.33L304.90 228.58L305.00 229.67L305.10 230.60L305.20 231.37L305.30 231.98L305.40 232.43L305.50 232.71L305.60 232.83L305.70 232.79L305.80 232.58L305.90 232.21L306.00 231.67L306.10 230.97L306.20 230.11L306.30 229.09L306.40 227.91L306.50 226.57L306.60 225.08L306.70 223.43L306.80 221.63L306.90 219.67L307.00 217.57L307.10 215.33L307.20 212.94L307.30 210.41L307.40 207.75L307.50 204.95L307.60 202.03L307.70 198.98L307.80 195.81L307.90 192.52L308.00 189.11L308.10 185.60L308.20 181.98L308.30 178.27L308.40 174.45L308.50 170.55L308.60 166.56L308.70 162.49L308.80 158.35L308.90 154.14L309.00 149.86L309.10 145.52L309.20 141.13L309.30 136.69L309.40 132.21L309.50 127.70L309.60 123.15L309.70 118.58L309.80 113.99L309.90 109.38L310.00 104.77L310.10 100.16L310.20 95.55L310.30 90.95L310.40 86.37L310.50 81.81L310.60 77.28L310.70 72.78L310.80 68.32L310.90 63.91L311.00 59.55L311.10 55.25L311.20 51.00L311.30 46.83L311.40 42.73L311.50 38.71L311.60 34.77L311.70 30.92L311.80 27.16L311.90 23.50L312.00 19.94L312.10 16.50L312.20 13.16L312.30 9.94L312.40 6.84L312.50 3.87L312.60 1.03L312.70 -1.69L312.80 -4.26L312.90 -6.70L313.00 -9.00L313.10 -11.15L313.20 -13.15L313.30 -15.00L313.40 -16.70L313.50 -18.24L313.60 -19.63L313.70 -20.85L313.80 -21.92L313.90 -22.82L314.00 -23.56L314.10 -24.14L314.20 -24.55L314.30 -24.79L314.40 -24.87L314.50 -24.78L314.60 -24.53L314.70 -24.11L314.80 -23.53L314.90 -22.77L315.00 -21.86L315.10 -20.78L315.20 -19.55L315.30 -18.15L315.40 -16.59L315.50 -14.88L315.60 -13.01L315.70 -10.99L315.80 -8.83L315.90 -6.51L316.00 -4.05L316.10 -1.46L316.20 1.28L316.30 4.15L316.40 7.15L316.50 10.27L316.60 13.52L316.70 16.88L316.80 20.36L316.90 23.95L317.00 27.65L317.10 31.44L317.20 35.33L317.30 39.31L317.40 43.37L317.50 47.52L317.60 51.74L317.70 56.03L317.80 60.38L317.90 64.79L318.00 69.25L318.10 73.77L318.20 78.32L318.30 82.91L318.40 87.52L318.50 92.16L318.60 96.82L318.70 101.49L318.80 106.17L318.90 110.85L319.00 115.52L319.10 120.18L319.20 124.82L319.30 129.43L319.40 134.02L319.50 138.57L319.60 143.07L319.70 147.53L319.80 151.94L319.90 156.29L320.00 160.57L320.10 164.79L320.20 168.92L320.30 172.98L320.40 176.95L320.50 180.83L320.60 184.61L320.70 188.30L320.80 191.87L320.90 195.34L321.00 198.69L321.10 201.92L321.20 205.03L321.30 208.01L321.40 210.86L321.50 213.58L321.60 216.15L321.70 218.59L321.80 220.88L321.90 223.02L322.00 225.01L322.10 226.85L322.20 228.53L322.30 230.05L322.40 231.42L322.50 232.62L322.60 233.66L322.70 234.53" fill="none" stroke="#e0e0e0" stroke-width="1.05" clip-path="url(#c)"/>
<line x1="32.50" y1="105.00" x2="322.70" y2="105.00" stroke="#a0a0a0" stroke-width="1.5" stroke-dasharray="5.2 2"/>
<g fill="none" stroke-width="1.0" stroke-linejoin="round" clip-path="url(#c)">
<path d="M32.50 160.80L33.10 160.30L34.70 158.20L36.30 156.10L37.50 153.50L38.80 151.80L39.90 156.10L41.70 151.50L42.80 155.80L44.20 150.90L45.00 153.10L45.80 152.70L46.60 153.90L47.30 155.50L48.10 157.40L48.70 157.00L49.30 155.50L50.10 153.90L50.80 152.70L51.60 151.60L52.40 149.20L53.20 146.50L53.70 146.90L54.20 150.00L54.70 153.90L55.30 155.50L55.90 154.70L56.00 150.20L56.80 148.60L57.60 147.70L58.50 149.40L59.30 151.80L60.10 154.30L60.90 155.90L61.70 157.60L62.60 158.40L63.40 156.80L64.20 155.10L65.00 155.50L65.80 156.30L66.70 158.00L67.50 159.20L68.30 159.60L69.10 158.00L70.00 156.80L70.90 158.10L71.80 155.40L72.70 152.60L73.60 153.50L74.50 151.70L75.40 148.10L76.10 147.20L76.80 149.90L77.40 151.70L78.10 145.40L78.90 143.20L79.50 145.40L79.90 151.70L80.40 156.30L80.80 158.10L81.70 154.50L82.00 152.00L83.40 150.60L85.10 147.40L85.80 148.50L86.50 152.60L87.20 151.30L88.30 148.10L88.90 149.20L89.60 153.30L90.30 154.70L91.00 153.70L91.70 155.10L92.40 154.00L93.10 155.40L93.80 152.00L94.50 145.00L94.70 142.30L95.50 141.20L96.30 148.50L97.00 152.00L97.70 155.50L98.40 157.20L99.50 153.40L100.50 152.00L101.20 155.50L101.90 157.20L102.60 158.90L103.70 160.70L104.40 161.40L105.10 159.60L105.80 155.50L106.50 152.00L107.20 154.10L107.80 157.50L108.00 152.80L109.00 154.80L109.80 156.20L110.50 157.70L111.20 159.70L111.90 160.20L112.70 158.70L113.40 157.20L114.10 158.20L114.90 159.70L115.70 157.70L116.40 153.80L117.10 152.80L117.90 154.30L118.70 152.80L119.30 152.30L120.00 154.30L120.80 157.70L122.00 159.20L122.80 159.20L123.50 154.80L124.20 149.80L125.00 148.80L125.70 151.80L126.40 153.80L127.10 150.80L127.90 152.80L128.70 155.30L129.40 152.80L130.10 146.90L130.90 141.90L131.70 140.00L132.40 141.90L133.00 148.80L133.80 154.80L134.60 156.70L135.30 154.80L136.00 152.80L136.90 147.70L137.60 144.50L138.30 146.70L139.00 152.00L139.70 149.30L140.50 144.50L141.30 141.30L142.20 140.80L142.90 144.50L143.50 150.90L144.00 157.30L144.50 158.40L145.40 150.90L146.10 148.30L146.70 149.90L147.50 146.70L148.30 142.40L149.00 141.30L150.00 143.50L150.70 148.10L151.50 152.50L152.20 149.60L153.20 155.50L154.40 158.40L155.60 152.50L156.20 149.60L157.10 155.50L158.10 159.20L159.10 159.20L160.30 157.00L161.10 143.70L161.80 137.80L162.50 140.70L163.00 149.60L164.00 155.50L165.00 156.80L165.80 155.10L166.60 158.40L167.40 156.80L168.30 157.60L169.10 156.00L169.90 156.80L170.70 154.30L171.50 148.60L172.20 137.10L172.90 131.40L174.00 130.60L174.50 129.70L175.70 128.50L176.30 122.90L177.50 121.00L178.60 121.50L179.20 123.50L179.50 140.00L179.80 158.20" stroke="#5050ff"/>
<line x1="179.8" y1="158.3" x2="322.70" y2="158.3" stroke="#4a4aff" stroke-width="1.4"/>
<path d="M32.50 145.50L33.60 146.00L34.70 149.20L35.60 152.30L36.40 152.00L37.20 152.90L38.00 155.50L38.80 156.90L39.60 155.20L40.40 153.40L41.50 157.10L42.80 153.70L44.10 157.40L45.00 155.90L45.80 156.60L46.60 156.20L47.30 153.90L48.10 151.20L48.70 152.30L49.30 154.30L50.10 155.50L50.60 154.70L51.20 155.90L51.90 157.40L52.40 158.60L53.20 159.70L53.70 159.40L54.30 157.00L55.00 153.90L55.50 151.60L56.00 153.50L56.80 155.90L57.60 158.80L58.50 158.00L59.30 156.30L60.10 154.30L60.90 151.80L61.70 149.80L62.60 151.00L63.40 153.50L64.20 155.10L65.00 153.90L65.80 151.40L66.70 148.60L67.50 145.70L68.30 144.90L69.10 146.90L70.00 148.60L70.90 148.60L71.40 149.90L71.80 153.50L72.70 154.90L73.40 152.60L74.10 154.50L75.00 155.80L75.90 158.10L76.50 159.40L77.20 156.70L77.90 158.10L78.60 159.40L79.20 160.30L79.90 158.10L80.70 155.40L81.30 153.50L82.00 155.40L83.00 156.80L84.10 157.50L85.10 159.20L85.80 158.90L86.50 156.10L87.20 156.10L88.30 158.90L88.90 159.60L89.60 156.80L90.30 154.00L91.00 155.40L91.70 153.70L92.40 155.40L93.10 154.40L93.80 157.50L94.50 160.00L95.50 161.30L96.00 160.30L96.70 157.50L97.40 153.40L98.10 152.00L98.80 154.80L99.50 156.80L100.20 157.20L100.90 155.50L101.40 152.70L101.90 149.20L102.30 146.40L102.90 142.90L103.90 140.60L104.70 141.20L105.40 145.00L105.80 148.50L106.10 155.50L106.50 157.50L107.20 156.10L107.80 151.30L108.00 150.80L109.00 148.40L110.00 145.90L111.00 142.40L111.70 141.90L112.40 144.90L113.10 148.80L113.70 146.90L114.40 144.90L115.10 147.90L115.70 152.80L116.40 154.30L117.10 154.80L117.90 156.20L118.70 157.70L119.30 155.80L120.00 149.80L120.80 145.40L122.00 143.90L122.80 144.40L123.20 149.80L123.50 157.70L124.00 159.70L124.80 160.20L125.50 157.20L125.90 151.80L126.70 149.80L127.40 152.80L128.10 155.30L128.90 154.30L129.70 156.70L130.40 159.20L131.10 160.20L131.90 158.70L132.70 154.80L133.30 149.30L134.00 147.90L134.80 150.80L136.00 153.80L136.90 157.30L137.60 158.90L138.30 157.30L139.00 154.70L139.70 152.00L140.30 153.10L140.80 156.30L141.30 158.40L142.20 157.30L142.90 150.90L143.70 145.60L144.30 146.10L145.10 152.00L145.60 156.30L146.40 157.30L147.20 158.90L147.90 158.40L148.80 156.30L149.70 148.60L150.70 151.10L151.50 155.50L152.20 149.60L153.00 140.70L153.70 140.00L154.40 146.60L155.20 153.30L155.90 149.60L156.60 134.80L157.70 129.00L158.80 128.20L159.70 131.90L160.30 143.70L160.90 155.50L161.50 159.20L162.50 157.70L163.30 148.10L164.00 143.70L165.00 135.50L166.10 133.00L167.00 135.50L167.80 142.00L168.60 143.70L169.40 142.90L170.20 143.70L171.00 146.10L171.90 151.90L172.70 159.20L174.00 160.90L176.10 161.40L179.00 161.40L179.50 154.50L180.10 141.40L181.20 125.00L182.30 112.00L183.40 100.00L185.00 80.00L186.00 69.00L186.00 69.89L186.20 68.20L186.40 66.77L186.60 65.63L186.80 64.80L187.00 64.28L187.20 64.10L187.40 64.25L187.60 64.73L187.80 65.54L188.00 66.65L188.20 68.05L188.40 69.72L188.60 71.62L188.80 73.72L189.00 75.99L189.20 78.38L189.40 80.86L189.60 83.38L189.80 85.90L190.00 88.38L190.20 90.79L190.40 93.08L190.60 95.22L190.80 97.19L191.00 98.96L191.20 100.50L191.40 101.82L191.60 102.90L191.80 103.75L192.00 104.37L192.20 104.78L192.40 105.01L192.60 105.09L192.80 105.09L193.00 105.04L193.20 104.93L193.40 104.76L193.60 104.56L193.80 104.31L194.00 104.04L194.20 103.75L194.40 103.45L194.60 103.15L194.80 102.86L195.00 102.60L195.20 102.38L195.40 102.19L195.60 102.06L195.80 101.98L196.00 101.95L196.20 101.99L196.40 102.08L196.60 102.22L196.80 102.42L197.00 102.65L197.20 102.92L197.40 103.21L197.60 103.51L197.80 103.82L198.00 104.11L198.20 104.38L198.40 104.62L198.60 104.82L198.80 104.97L199.00 105.06L199.20 105.10L199.40 105.07L199.60 104.94L199.80 104.64L200.00 104.14L200.20 103.41L200.40 102.46L200.60 101.26L200.80 99.81L201.00 98.14L201.20 96.25L201.40 94.16L201.60 91.90L201.80 89.49L202.00 86.98L202.20 84.41L202.40 81.80L202.60 79.21L202.80 76.68L203.00 74.25L203.20 71.95L203.40 69.84L203.60 67.95L203.80 66.31L204.00 64.95L204.20 63.90L204.40 63.17L204.60 62.77L204.80 62.72L205.00 63.02L205.20 63.65L205.40 64.61L205.60 65.89L205.80 67.45L206.00 69.27L206.20 71.33L206.40 73.58L206.60 75.98L206.80 78.49L207.00 81.08L207.20 83.69L207.40 86.28L207.60 88.82L207.80 91.27L208.00 93.58L208.20 95.72L208.40 97.68L208.60 99.42L208.80 100.92L209.00 102.19L209.20 103.21L209.40 103.99L209.60 104.54L209.80 104.89L210.00 105.06L210.20 105.10L210.40 105.07L210.60 104.98L210.80 104.82L211.00 104.61L211.20 104.34L211.40 104.04L211.60 103.70L211.80 103.35L212.00 103.00L212.20 102.65L212.40 102.32L212.60 102.03L212.80 101.78L213.00 101.58L213.20 101.45L213.40 101.38L213.60 101.38L213.80 101.45L214.00 101.58L214.20 101.78L214.40 102.03L214.60 102.33L214.80 102.66L215.00 103.01L215.20 103.37L215.40 103.73L215.60 104.06L215.80 104.37L216.00 104.64L216.20 104.85L216.40 105.00L216.60 105.08L216.80 105.10L217.00 105.03L217.20 104.83L217.40 104.44L217.60 103.83L217.80 102.99L218.00 101.90L218.20 100.56L218.40 98.98L218.60 97.15L218.80 95.11L219.00 92.88L219.20 90.48L219.40 87.95L219.60 85.32L219.80 82.64L220.00 79.95L220.20 77.30L220.40 74.72L220.60 72.26L220.80 69.96L221.00 67.87L221.20 66.01L221.40 64.43L221.60 63.15L221.80 62.19L222.00 61.58L222.20 61.31L222.40 61.40L222.60 61.85L222.80 62.64L223.00 63.77L223.20 65.21L223.40 66.93L223.60 68.92L223.80 71.12L224.00 73.51L224.20 76.05L224.40 78.68L224.60 81.36L224.80 84.06L225.00 86.72L225.20 89.31L225.40 91.78L225.60 94.11L225.80 96.25L226.00 98.18L226.20 99.88L226.40 101.34L226.60 102.55L226.80 103.50L227.00 104.21L227.20 104.69L227.40 104.97L227.60 105.09L227.80 105.10L228.00 105.03L228.20 104.90L228.40 104.68L228.60 104.41L228.80 104.08L229.00 103.71L229.20 103.31L229.40 102.90L229.60 102.48L229.80 102.09L230.00 101.72L230.20 101.40L230.40 101.13L230.60 100.93L230.80 100.81L231.00 100.76L231.20 100.79L231.40 100.91L231.60 101.09L231.80 101.35L232.00 101.66L232.20 102.03L232.40 102.42L232.60 102.84L232.80 103.26L233.00 103.66L233.20 104.04L233.40 104.38L233.60 104.67L233.80 104.89L234.00 105.03L234.20 105.10L234.40 105.09L234.60 104.97L234.80 104.69L235.00 104.20L235.20 103.48L235.40 102.50L235.60 101.28L235.80 99.79L236.00 98.05L236.20 96.08L236.40 93.89L236.60 91.51L236.80 88.98L237.00 86.32L237.20 83.59L237.40 80.81L237.60 78.04L237.80 75.33L238.00 72.71L238.20 70.23L238.40 67.94L238.60 65.88L238.80 64.07L239.00 62.56L239.20 61.37L239.40 60.52L239.60 60.03L239.80 59.90L240.00 60.15L240.20 60.75L240.40 61.71L240.60 63.00L240.80 64.61L241.00 66.50L241.20 68.65L241.40 71.01L241.60 73.54L241.80 76.20L242.00 78.94L242.20 81.72L242.40 84.50L242.60 87.22L242.80 89.85L243.00 92.34L243.20 94.67L243.40 96.79L243.60 98.69L243.80 100.35L244.00 101.75L244.20 102.89L244.40 103.77L244.60 104.41L244.80 104.82L245.00 105.03L245.20 105.10L245.40 105.08L245.60 104.97L245.80 104.78L246.00 104.50L246.20 104.16L246.40 103.76L246.60 103.32L246.80 102.86L247.00 102.38L247.20 101.91L247.40 101.47L247.60 101.06L247.80 100.72L248.00 100.44L248.20 100.25L248.40 100.14L248.60 100.12L248.80 100.20L249.00 100.36L249.20 100.61L249.40 100.94L249.60 101.32L249.80 101.75L250.00 102.22L250.20 102.70L250.40 103.18L250.60 103.63L250.80 104.05L251.00 104.42L251.20 104.71L251.40 104.93L251.60 105.06L251.80 105.10L252.00 105.05L252.20 104.87L252.40 104.50L252.60 103.90L252.80 103.06L253.00 101.95L253.20 100.58L253.40 98.94L253.60 97.05L253.80 94.92L254.00 92.58L254.20 90.06L254.40 87.39L254.60 84.62L254.80 81.77L255.00 78.91L255.20 76.07L255.40 73.31L255.60 70.66L255.80 68.18L256.00 65.91L256.20 63.88L256.40 62.14L256.60 60.71L256.80 59.62L257.00 58.89L257.20 58.54L257.40 58.56L257.60 58.96L257.80 59.73L258.00 60.86L258.20 62.33L258.40 64.11L258.60 66.17L258.80 68.47L259.00 70.98L259.20 73.65L259.40 76.43L259.60 79.28L259.80 82.15L260.00 84.99L260.20 87.77L260.40 90.42L260.60 92.93L260.80 95.25L261.00 97.35L261.20 99.21L261.40 100.81L261.60 102.15L261.80 103.22L262.00 104.02L262.20 104.58L262.40 104.92L262.60 105.07L262.80 105.10L263.00 105.04L263.20 104.88L263.40 104.62L263.60 104.28L263.80 103.86L264.00 103.39L264.20 102.87L264.40 102.33L264.60 101.79L264.80 101.27L265.00 100.78L265.20 100.35L265.40 99.99L265.60 99.71L265.80 99.53L266.00 99.45L266.20 99.47L266.40 99.60L266.60 99.83L266.80 100.15L267.00 100.54L267.20 101.00L267.40 101.51L267.60 102.05L267.80 102.60L268.00 103.13L268.20 103.63L268.40 104.09L268.60 104.47L268.80 104.77L269.00 104.98L269.20 105.09L269.40 105.09L269.60 105.00L269.80 104.74L270.00 104.26L270.20 103.55L270.40 102.57L270.60 101.32L270.80 99.80L271.00 98.00L271.20 95.96L271.40 93.68L271.60 91.19L271.80 88.53L272.00 85.73L272.20 82.83L272.40 79.89L272.60 76.95L272.80 74.05L273.00 71.24L273.20 68.58L273.40 66.10L273.60 63.86L273.80 61.89L274.00 60.22L274.20 58.88L274.40 57.91L274.60 57.31L274.80 57.10L275.00 57.28L275.20 57.85L275.40 58.79L275.60 60.10L275.80 61.74L276.00 63.69L276.20 65.92L276.40 68.38L276.60 71.04L276.80 73.84L277.00 76.74L277.20 79.69L277.40 82.64L277.60 85.55L277.80 88.36L278.00 91.04L278.20 93.55L278.40 95.85L278.60 97.91L278.80 99.73L279.00 101.27L279.20 102.53L279.40 103.52L279.60 104.25L279.80 104.73L280.00 105.00L280.20 105.09L280.40 105.09L280.60 104.97L280.80 104.74L281.00 104.42L281.20 103.99L281.40 103.50L281.60 102.94L281.80 102.35L282.00 101.74L282.20 101.14L282.40 100.57L282.60 100.04L282.80 99.59L283.00 99.22L283.20 98.95L283.40 98.79L283.60 98.75L283.80 98.82L284.00 99.01L284.20 99.31L284.40 99.70L284.60 100.18L284.80 100.72L285.00 101.31L285.20 101.92L285.40 102.53L285.60 103.12L285.80 103.66L286.00 104.14L286.20 104.54L286.40 104.84L286.60 105.03L286.80 105.10L287.00 105.07L287.20 104.91L287.40 104.56L287.60 103.98L287.80 103.13L288.00 102.02L288.20 100.62L288.40 98.94L288.60 96.98L288.80 94.78L289.00 92.34L289.20 89.70L289.40 86.90L289.60 83.98L289.80 80.97L290.00 77.94L290.20 74.92L290.40 71.97L290.60 69.13L290.80 66.47L291.00 64.01L291.20 61.81L291.40 59.90L291.60 58.32L291.80 57.09L292.00 56.24L292.20 55.78L292.40 55.73L292.60 56.07L292.80 56.81L293.00 57.94L293.20 59.42L293.40 61.25L293.60 63.37L293.80 65.77L294.00 68.39L294.20 71.19L294.40 74.11L294.60 77.13L294.80 80.17L295.00 83.19L295.20 86.15L295.40 89.00L295.60 91.69L295.80 94.18L296.00 96.46L296.20 98.48L296.40 100.24L296.60 101.71L296.80 102.90L297.00 103.81L297.20 104.45L297.40 104.85L297.60 105.05L297.80 105.10L298.00 105.05L298.20 104.87L298.40 104.57L298.60 104.16L298.80 103.65L299.00 103.07L299.20 102.43L299.40 101.76L299.60 101.08L299.80 100.42L300.00 99.80L300.20 99.24L300.40 98.77L300.60 98.40L300.80 98.15L301.00 98.02L301.20 98.03L301.40 98.16L301.60 98.43L301.80 98.80L302.00 99.28L302.20 99.85L302.40 100.48L302.60 101.14L302.80 101.83L303.00 102.50L303.20 103.14L303.40 103.72L303.60 104.22L303.80 104.62L304.00 104.91L304.20 105.07L304.40 105.10L304.60 105.02L304.80 104.79L305.00 104.33L305.20 103.63L305.40 102.65L305.60 101.39L305.80 99.83L306.00 97.99L306.20 95.87L306.40 93.51L306.60 90.91L306.80 88.13L307.00 85.19L307.20 82.15L307.40 79.04L307.60 75.92L307.80 72.84L308.00 69.84L308.20 66.99L308.40 64.33L308.60 61.90L308.80 59.75L309.00 57.92L309.20 56.44L309.40 55.33L309.60 54.62L309.80 54.31L310.00 54.42L310.20 54.94L310.40 55.86L310.60 57.17L310.80 58.84L311.00 60.85L311.20 63.15L311.40 65.71L311.60 68.48L311.80 71.42L312.00 74.47L312.20 77.59L312.40 80.71L312.60 83.80L312.80 86.80L313.00 89.67L313.20 92.36L313.40 94.84L313.60 97.08L313.80 99.05L314.00 100.74L314.20 102.14L314.40 103.25L314.60 104.07L314.80 104.63L315.00 104.95L315.20 105.08L315.40 105.09L315.60 104.98L315.80 104.73L316.00 104.34L316.20 103.84L316.40 103.25L316.60 102.57L316.80 101.85L317.00 101.10L317.20 100.35L317.40 99.63L317.60 98.97L317.80 98.39L318.00 97.91L318.20 97.55L318.40 97.33L318.60 97.25L318.80 97.31L319.00 97.52L319.20 97.86L319.40 98.33L319.60 98.90L319.80 99.55L320.00 100.27L320.20 101.02L320.40 101.78L320.60 102.51L320.80 103.20L321.00 103.81L321.20 104.32L321.40 104.71L321.60 104.98L321.80 105.09L322.00 105.08L322.20 104.95L322.40 104.62L322.60 104.06" stroke="#ff6262"/>
<path d="M32.50 180.20L38.00 180.20L43.00 179.70L46.00 180.20L50.00 180.20L53.70 178.90L56.00 180.00L60.50 180.40L64.00 179.90L67.90 178.70L70.00 180.10L75.00 180.20L77.50 179.50L79.30 178.30L81.50 179.90L85.00 180.20L90.00 180.20L93.50 179.70L95.40 177.70L97.50 179.80L100.00 180.20L102.50 179.70L104.40 177.70L106.50 179.80L108.00 179.90L111.50 177.90L114.20 180.80L117.30 180.40L122.20 178.30L124.50 179.80L127.80 180.20L129.70 180.40L131.80 177.70L134.60 178.90L137.70 179.20L140.40 180.40L142.00 177.90L145.00 178.90L148.30 178.50L150.70 179.50L153.20 177.80L155.20 179.50L158.10 173.80L160.60 174.90L163.00 174.30L165.50 173.00L168.00 174.60L170.40 175.40L172.90 173.00L175.30 170.50L177.80 169.30L179.40 168.90L181.00 165.60L181.90 161.50L183.00 158.20L183.00 155.26L183.20 153.91L183.40 152.33L183.60 150.52L183.80 148.50L184.00 146.31L184.20 143.95L184.40 141.48L184.60 138.93L184.80 136.33L185.00 133.72L185.20 131.16L185.40 128.69L185.60 126.33L185.80 124.15L186.00 122.17L186.20 120.42L186.40 118.95L186.60 117.77L186.80 116.91L187.00 116.39L187.20 116.20L187.40 116.36L187.60 116.86L187.80 117.70L188.00 118.85L188.20 120.30L188.40 122.03L188.60 124.00L188.80 126.17L189.00 128.52L189.20 130.99L189.40 133.55L189.60 136.16L189.80 138.77L190.00 141.33L190.20 143.82L190.40 146.18L190.60 148.40L190.80 150.43L191.00 152.25L191.20 153.85L191.40 155.22L191.60 156.33L191.80 157.21L192.00 157.85L192.20 158.27L192.40 158.51L192.60 158.59L192.80 158.59L193.00 158.53L193.20 158.42L193.40 158.25L193.60 158.04L193.80 157.79L194.00 157.51L194.20 157.20L194.40 156.89L194.60 156.59L194.80 156.29L195.00 156.03L195.20 155.79L195.40 155.60L195.60 155.46L195.80 155.38L196.00 155.36L196.20 155.39L196.40 155.49L196.60 155.64L196.80 155.84L197.00 156.08L197.20 156.36L197.40 156.66L197.60 156.97L197.80 157.28L198.00 157.58L198.20 157.86L198.40 158.11L198.60 158.31L198.80 158.47L199.00 158.56L199.20 158.60L199.40 158.57L199.60 158.43L199.80 158.12L200.00 157.61L200.20 156.87L200.40 155.88L200.60 154.65L200.80 153.16L201.00 151.44L201.20 149.50L201.40 147.35L201.60 145.02L201.80 142.55L202.00 139.97L202.20 137.32L202.40 134.65L202.60 131.99L202.80 129.39L203.00 126.89L203.20 124.54L203.40 122.37L203.60 120.43L203.80 118.75L204.00 117.35L204.20 116.27L204.40 115.52L204.60 115.12L204.80 115.07L205.00 115.38L205.20 116.03L205.40 117.03L205.60 118.34L205.80 119.94L206.00 121.82L206.20 123.93L206.40 126.24L206.60 128.71L206.80 131.29L207.00 133.94L207.20 136.63L207.40 139.29L207.60 141.90L207.80 144.41L208.00 146.78L208.20 148.98L208.40 150.99L208.60 152.77L208.80 154.32L209.00 155.61L209.20 156.66L209.40 157.46L209.60 158.03L209.80 158.38L210.00 158.56L210.20 158.60L210.40 158.57L210.60 158.48L210.80 158.32L211.00 158.10L211.20 157.83L211.40 157.51L211.60 157.17L211.80 156.81L212.00 156.44L212.20 156.09L212.40 155.75L212.60 155.45L212.80 155.20L213.00 155.00L213.20 154.86L213.40 154.79L213.60 154.79L213.80 154.86L214.00 155.00L214.20 155.20L214.40 155.46L214.60 155.76L214.80 156.10L215.00 156.46L215.20 156.83L215.40 157.19L215.60 157.54L215.80 157.85L216.00 158.12L216.20 158.34L216.40 158.50L216.60 158.58L216.80 158.60L217.00 158.53L217.20 158.32L217.40 157.93L217.60 157.31L217.80 156.44L218.00 155.33L218.20 153.96L218.40 152.34L218.60 150.48L218.80 148.40L219.00 146.11L219.20 143.66L219.40 141.08L219.60 138.40L219.80 135.66L220.00 132.92L220.20 130.20L220.40 127.57L220.60 125.06L220.80 122.72L221.00 120.58L221.20 118.69L221.40 117.08L221.60 115.78L221.80 114.80L222.00 114.18L222.20 113.91L222.40 114.01L222.60 114.46L222.80 115.28L223.00 116.43L223.20 117.90L223.40 119.66L223.60 121.69L223.80 123.94L224.00 126.38L224.20 128.97L224.40 131.65L224.60 134.40L224.80 137.15L225.00 139.86L225.20 142.50L225.40 145.03L225.60 147.39L225.80 149.58L226.00 151.55L226.20 153.28L226.40 154.77L226.60 156.00L226.80 156.97L227.00 157.69L227.20 158.18L227.40 158.47L227.60 158.59L227.80 158.60L228.00 158.53L228.20 158.39L228.40 158.18L228.60 157.90L228.80 157.56L229.00 157.19L229.20 156.78L229.40 156.36L229.60 155.94L229.80 155.53L230.00 155.16L230.20 154.83L230.40 154.56L230.60 154.36L230.80 154.23L231.00 154.19L231.20 154.22L231.40 154.33L231.60 154.53L231.80 154.79L232.00 155.11L232.20 155.47L232.40 155.88L232.60 156.30L232.80 156.73L233.00 157.14L233.20 157.53L233.40 157.87L233.60 158.16L233.80 158.38L234.00 158.53L234.20 158.60L234.40 158.59L234.60 158.47L234.80 158.18L235.00 157.68L235.20 156.95L235.40 155.96L235.60 154.72L235.80 153.21L236.00 151.44L236.20 149.44L236.40 147.22L236.60 144.80L236.80 142.23L237.00 139.54L237.20 136.76L237.40 133.94L237.60 131.13L237.80 128.38L238.00 125.72L238.20 123.21L238.40 120.89L238.60 118.80L238.80 116.97L239.00 115.44L239.20 114.23L239.40 113.38L239.60 112.88L239.80 112.75L240.00 113.00L240.20 113.62L240.40 114.60L240.60 115.91L240.80 117.54L241.00 119.47L241.20 121.64L241.40 124.04L241.60 126.60L241.80 129.30L242.00 132.08L242.20 134.91L242.40 137.72L242.60 140.48L242.80 143.14L243.00 145.67L243.20 148.03L243.40 150.18L243.60 152.11L243.80 153.79L244.00 155.21L244.20 156.36L244.40 157.25L244.60 157.90L244.80 158.31L245.00 158.53L245.20 158.60L245.40 158.58L245.60 158.47L245.80 158.27L246.00 158.00L246.20 157.65L246.40 157.25L246.60 156.80L246.80 156.33L247.00 155.85L247.20 155.37L247.40 154.92L247.60 154.52L247.80 154.17L248.00 153.89L248.20 153.69L248.40 153.58L248.60 153.57L248.80 153.64L249.00 153.81L249.20 154.06L249.40 154.39L249.60 154.78L249.80 155.22L250.00 155.69L250.20 156.17L250.40 156.66L250.60 157.12L250.80 157.54L251.00 157.91L251.20 158.21L251.40 158.43L251.60 158.56L251.80 158.60L252.00 158.55L252.20 158.37L252.40 157.99L252.60 157.39L252.80 156.54L253.00 155.42L253.20 154.03L253.40 152.38L253.60 150.47L253.80 148.32L254.00 145.96L254.20 143.42L254.40 140.73L254.60 137.92L254.80 135.06L255.00 132.17L255.20 129.30L255.40 126.52L255.60 123.85L255.80 121.35L256.00 119.05L256.20 117.01L256.40 115.26L256.60 113.82L256.80 112.73L257.00 111.99L257.20 111.64L257.40 111.66L257.60 112.07L257.80 112.85L258.00 113.99L258.20 115.47L258.40 117.27L258.60 119.35L258.80 121.67L259.00 124.20L259.20 126.90L259.40 129.70L259.60 132.58L259.80 135.47L260.00 138.34L260.20 141.13L260.40 143.81L260.60 146.34L260.80 148.67L261.00 150.79L261.20 152.67L261.40 154.28L261.60 155.63L261.80 156.70L262.00 157.51L262.20 158.08L262.40 158.42L262.60 158.57L262.80 158.60L263.00 158.54L263.20 158.37L263.40 158.12L263.60 157.77L263.80 157.35L264.00 156.88L264.20 156.36L264.40 155.82L264.60 155.27L264.80 154.75L265.00 154.26L265.20 153.82L265.40 153.46L265.60 153.18L265.80 153.00L266.00 152.92L266.20 152.94L266.40 153.07L266.60 153.30L266.80 153.62L267.00 154.02L267.20 154.48L267.40 154.99L267.60 155.53L267.80 156.08L268.00 156.62L268.20 157.13L268.40 157.58L268.60 157.97L268.80 158.27L269.00 158.48L269.20 158.59L269.40 158.59L269.60 158.50L269.80 158.23L270.00 157.76L270.20 157.04L270.40 156.06L270.60 154.80L270.80 153.27L271.00 151.47L271.20 149.42L271.40 147.13L271.60 144.63L271.80 141.96L272.00 139.15L272.20 136.25L272.40 133.29L272.60 130.34L272.80 127.43L273.00 124.62L273.20 121.95L273.40 119.47L273.60 117.22L273.80 115.24L274.00 113.57L274.20 112.23L274.40 111.26L274.60 110.66L274.80 110.45L275.00 110.63L275.20 111.20L275.40 112.16L275.60 113.47L275.80 115.12L276.00 117.08L276.20 119.32L276.40 121.79L276.60 124.45L276.80 127.26L277.00 130.17L277.20 133.13L277.40 136.09L277.60 139.00L277.80 141.82L278.00 144.51L278.20 147.02L278.40 149.33L278.60 151.40L278.80 153.22L279.00 154.76L279.20 156.03L279.40 157.02L279.60 157.75L279.80 158.23L280.00 158.50L280.20 158.59L280.40 158.59L280.60 158.47L280.80 158.24L281.00 157.91L281.20 157.49L281.40 157.00L281.60 156.44L281.80 155.85L282.00 155.24L282.20 154.64L282.40 154.06L282.60 153.54L282.80 153.08L283.00 152.71L283.20 152.44L283.40 152.29L283.60 152.24L283.80 152.32L284.00 152.51L284.20 152.80L284.40 153.20L284.60 153.68L284.80 154.22L285.00 154.81L285.20 155.42L285.40 156.03L285.60 156.62L285.80 157.16L286.00 157.64L286.20 158.04L286.40 158.34L286.60 158.53L286.80 158.60L287.00 158.57L287.20 158.41L287.40 158.06L287.60 157.48L287.80 156.63L288.00 155.52L288.20 154.12L288.40 152.44L288.60 150.49L288.80 148.29L289.00 145.85L289.20 143.22L289.40 140.42L289.60 137.50L289.80 134.50L290.00 131.47L290.20 128.46L290.40 125.52L290.60 122.69L290.80 120.03L291.00 117.58L291.20 115.38L291.40 113.48L291.60 111.90L291.80 110.68L292.00 109.83L292.20 109.38L292.40 109.33L292.60 109.67L292.80 110.42L293.00 111.54L293.20 113.03L293.40 114.85L293.60 116.97L293.80 119.36L294.00 121.98L294.20 124.77L294.40 127.70L294.60 130.70L294.80 133.74L295.00 136.75L295.20 139.70L295.40 142.54L295.60 145.23L295.80 147.72L296.00 149.99L296.20 152.00L296.40 153.75L296.60 155.22L296.80 156.41L297.00 157.31L297.20 157.95L297.40 158.35L297.60 158.55L297.80 158.60L298.00 158.55L298.20 158.37L298.40 158.07L298.60 157.66L298.80 157.16L299.00 156.58L299.20 155.94L299.40 155.27L299.60 154.60L299.80 153.94L300.00 153.32L300.20 152.77L300.40 152.30L300.60 151.93L300.80 151.68L301.00 151.56L301.20 151.56L301.40 151.70L301.60 151.96L301.80 152.33L302.00 152.81L302.20 153.37L302.40 154.00L302.60 154.66L302.80 155.35L303.00 156.02L303.20 156.65L303.40 157.23L303.60 157.73L303.80 158.13L304.00 158.41L304.20 158.57L304.40 158.60L304.60 158.52L304.80 158.29L305.00 157.84L305.20 157.14L305.40 156.17L305.60 154.91L305.80 153.36L306.00 151.53L306.20 149.43L306.40 147.08L306.60 144.50L306.80 141.73L307.00 138.82L307.20 135.79L307.40 132.70L307.60 129.60L307.80 126.54L308.00 123.57L308.20 120.74L308.40 118.09L308.60 115.69L308.80 113.55L309.00 111.74L309.20 110.27L309.40 109.17L309.60 108.46L309.80 108.16L310.00 108.27L310.20 108.79L310.40 109.71L310.60 111.01L310.80 112.67L311.00 114.67L311.20 116.95L311.40 119.50L311.60 122.25L311.80 125.17L312.00 128.20L312.20 131.29L312.40 134.40L312.60 137.46L312.80 140.44L313.00 143.29L313.20 145.96L313.40 148.42L313.60 150.64L313.80 152.60L314.00 154.28L314.20 155.66L314.40 156.76L314.60 157.58L314.80 158.13L315.00 158.45L315.20 158.58L315.40 158.59L315.60 158.48L315.80 158.23L316.00 157.85L316.20 157.35L316.40 156.76L316.60 156.09L316.80 155.38L317.00 154.63L317.20 153.89L317.40 153.18L317.60 152.52L317.80 151.95L318.00 151.47L318.20 151.12L318.40 150.90L318.60 150.82L318.80 150.88L319.00 151.09L319.20 151.43L319.40 151.89L319.60 152.46L319.80 153.11L320.00 153.82L320.20 154.56L320.40 155.31L320.60 156.04L320.80 156.72L321.00 157.32L321.20 157.83L321.40 158.22L321.60 158.48L321.80 158.59L322.00 158.58L322.20 158.45L322.40 158.13L322.60 157.57" stroke="#4a4a4a" stroke-width="0.9"/>
</g>
<path d="M32.50 206.50v-3.50M32.50 3.50v3.50M38.94 206.50v-2.20M38.94 3.50v2.20M45.38 206.50v-2.20M45.38 3.50v2.20M51.82 206.50v-2.20M51.82 3.50v2.20M58.26 206.50v-2.20M58.26 3.50v2.20M64.70 206.50v-2.20M64.70 3.50v2.20M71.14 206.50v-2.20M71.14 3.50v2.20M77.58 206.50v-2.20M77.58 3.50v2.20M84.02 206.50v-2.20M84.02 3.50v2.20M90.46 206.50v-2.20M90.46 3.50v2.20M96.90 206.50v-3.50M96.90 3.50v3.50M103.34 206.50v-2.20M103.34 3.50v2.20M109.78 206.50v-2.20M109.78 3.50v2.20M116.22 206.50v-2.20M116.22 3.50v2.20M122.66 206.50v-2.20M122.66 3.50v2.20M129.10 206.50v-2.20M129.10 3.50v2.20M135.54 206.50v-2.20M135.54 3.50v2.20M141.98 206.50v-2.20M141.98 3.50v2.20M148.42 206.50v-2.20M148.42 3.50v2.20M154.86 206.50v-2.20M154.86 3.50v2.20M161.30 206.50v-3.50M161.30 3.50v3.50M167.74 206.50v-2.20M167.74 3.50v2.20M174.18 206.50v-2.20M174.18 3.50v2.20M180.62 206.50v-2.20M180.62 3.50v2.20M187.06 206.50v-2.20M187.06 3.50v2.20M193.50 206.50v-2.20M193.50 3.50v2.20M199.94 206.50v-2.20M199.94 3.50v2.20M206.38 206.50v-2.20M206.38 3.50v2.20M212.82 206.50v-2.20M212.82 3.50v2.20M219.26 206.50v-2.20M219.26 3.50v2.20M225.70 206.50v-3.50M225.70 3.50v3.50M232.14 206.50v-2.20M232.14 3.50v2.20M238.58 206.50v-2.20M238.58 3.50v2.20M245.02 206.50v-2.20M245.02 3.50v2.20M251.46 206.50v-2.20M251.46 3.50v2.20M257.90 206.50v-2.20M257.90 3.50v2.20M264.34 206.50v-2.20M264.34 3.50v2.20M270.78 206.50v-2.20M270.78 3.50v2.20M277.22 206.50v-2.20M277.22 3.50v2.20M283.66 206.50v-2.20M283.66 3.50v2.20M290.10 206.50v-3.50M290.10 3.50v3.50M296.54 206.50v-2.20M296.54 3.50v2.20M302.98 206.50v-2.20M302.98 3.50v2.20M309.42 206.50v-2.20M309.42 3.50v2.20M315.86 206.50v-2.20M315.86 3.50v2.20M322.30 206.50v-2.20M322.30 3.50v2.20M32.50 206.50h3.50M322.70 206.50h-3.50M32.50 201.43h2.20M322.70 201.43h-2.20M32.50 196.35h2.20M322.70 196.35h-2.20M32.50 191.28h2.20M322.70 191.28h-2.20M32.50 186.20h2.20M322.70 186.20h-2.20M32.50 181.12h3.50M322.70 181.12h-3.50M32.50 176.05h2.20M322.70 176.05h-2.20M32.50 170.97h2.20M322.70 170.97h-2.20M32.50 165.90h2.20M322.70 165.90h-2.20M32.50 160.82h2.20M322.70 160.82h-2.20M32.50 155.75h3.50M322.70 155.75h-3.50M32.50 150.68h2.20M322.70 150.68h-2.20M32.50 145.60h2.20M322.70 145.60h-2.20M32.50 140.53h2.20M322.70 140.53h-2.20M32.50 135.45h2.20M322.70 135.45h-2.20M32.50 130.38h3.50M322.70 130.38h-3.50M32.50 125.30h2.20M322.70 125.30h-2.20M32.50 120.22h2.20M322.70 120.22h-2.20M32.50 115.15h2.20M322.70 115.15h-2.20M32.50 110.08h2.20M322.70 110.08h-2.20M32.50 105.00h3.50M322.70 105.00h-3.50M32.50 99.92h2.20M322.70 99.92h-2.20M32.50 94.85h2.20M322.70 94.85h-2.20M32.50 89.78h2.20M322.70 89.78h-2.20M32.50 84.70h2.20M322.70 84.70h-2.20M32.50 79.62h3.50M322.70 79.62h-3.50M32.50 74.55h2.20M322.70 74.55h-2.20M32.50 69.47h2.20M322.70 69.47h-2.20M32.50 64.40h2.20M322.70 64.40h-2.20M32.50 59.32h2.20M322.70 59.32h-2.20M32.50 54.25h3.50M322.70 54.25h-3.50M32.50 49.18h2.20M322.70 49.18h-2.20M32.50 44.10h2.20M322.70 44.10h-2.20M32.50 39.03h2.20M322.70 39.03h-2.20M32.50 33.95h2.20M322.70 33.95h-2.20M32.50 28.88h3.50M322.70 28.88h-3.50M32.50 23.80h2.20M322.70 23.80h-2.20M32.50 18.72h2.20M322.70 18.72h-2.20M32.50 13.65h2.20M322.70 13.65h-2.20M32.50 8.57h2.20M322.70 8.57h-2.20M32.50 3.50h3.50M322.70 3.50h-3.50" stroke="#333" stroke-width="0.95" fill="none"/>
<rect x="32.50" y="3.50" width="290.20" height="203.00" fill="none" stroke="#333" stroke-width="0.9"/>
<g font-size="10" fill="#000" stroke="#000" stroke-width="0.18"><text x="27.8" y="210.90" text-anchor="end">-4</text><text x="27.8" y="185.53" text-anchor="end">-3</text><text x="27.8" y="160.15" text-anchor="end">-2</text><text x="27.8" y="134.78" text-anchor="end">-1</text><text x="27.8" y="109.40" text-anchor="end">0</text><text x="27.8" y="84.03" text-anchor="end">1</text><text x="27.8" y="58.65" text-anchor="end">2</text><text x="27.8" y="33.27" text-anchor="end">3</text><text x="27.8" y="7.90" text-anchor="end">4</text><text x="32.50" y="220.5" text-anchor="middle">-1200</text><text x="96.90" y="220.5" text-anchor="middle">-1000</text><text x="161.30" y="220.5" text-anchor="middle">-800</text><text x="225.70" y="220.5" text-anchor="middle">-600</text><text x="290.10" y="220.5" text-anchor="middle">-400</text></g>
<text x="178" y="241" font-size="12.5" letter-spacing="0.3" text-anchor="middle" fill="#000" stroke="#000" stroke-width="0.3">t (a.u.)</text>
<text transform="translate(9.5 104.2) rotate(-90)" font-size="12.5" text-anchor="middle" fill="#000" stroke="#000" stroke-width="0.3">Energy (a.u.)</text>
</svg></body></html>
